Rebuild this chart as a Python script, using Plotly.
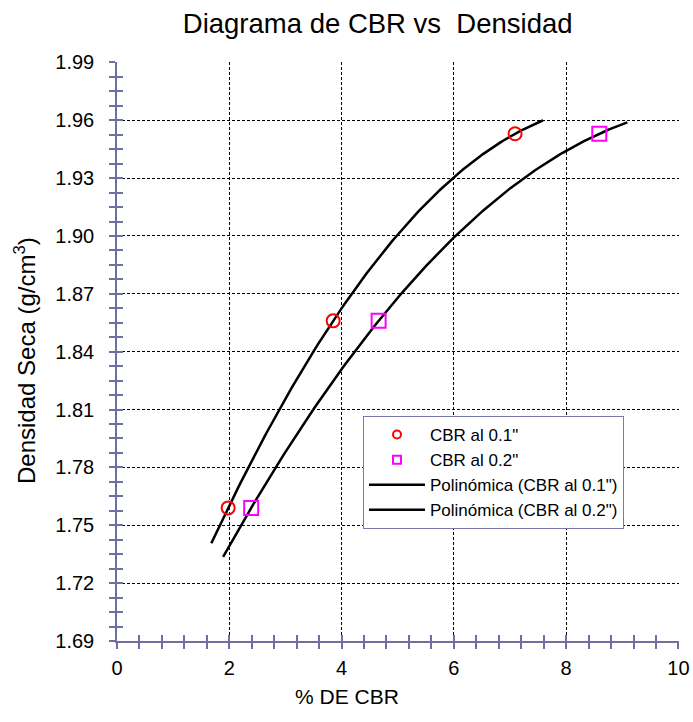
import numpy as np
import plotly.graph_objects as go

# Dry density (g/cm3) for the three compaction specimens
densidad = [1.759, 1.856, 1.953]
# CBR (%) read at 0.1" and 0.2" penetration
cbr_01 = [1.98, 3.85, 7.09]
cbr_02 = [2.39, 4.66, 8.59]

# Trendline extension (backward, forward) in CBR units
ext_01 = (0.30, 0.50)
ext_02 = (0.50, 0.50)

y_ticks = [1.69, 1.72, 1.75, 1.78, 1.81, 1.84, 1.87, 1.90, 1.93, 1.96, 1.99]
x_ticks = [0, 2, 4, 6, 8, 10]

FONT = "Liberation Sans, Arial, sans-serif"
AXIS_COLOR = "#6f6fa6"

# Ranges nudged past the last tick so the edge gridlines are kept
X_RANGE = [0, 10.01]
Y_RANGE = [1.69, 1.9902]


def poly_trend(x, y, ext, n=150):
    """Second-order polynomial trendline, extended like a spreadsheet trendline."""
    coef = np.polyfit(x, y, 2)
    xs = np.linspace(min(x) - ext[0], max(x) + ext[1], n)
    return xs, np.polyval(coef, xs)


tx1, ty1 = poly_trend(cbr_01, densidad, ext_01)
tx2, ty2 = poly_trend(cbr_02, densidad, ext_02)

fig = go.Figure()

# Trendlines
fig.add_trace(go.Scatter(x=tx1, y=ty1, mode="lines", line=dict(color="black", width=2.5),
                         showlegend=False, hoverinfo="skip"))
fig.add_trace(go.Scatter(x=tx2, y=ty2, mode="lines", line=dict(color="black", width=2.5),
                         showlegend=False, hoverinfo="skip"))

# Measured points
fig.add_trace(go.Scatter(x=cbr_01, y=densidad, mode="markers",
                         marker=dict(symbol="circle-open", size=13, color="#ff0000",
                                     line=dict(width=2, color="#ff0000")),
                         showlegend=False))
fig.add_trace(go.Scatter(x=cbr_02, y=densidad, mode="markers",
                         marker=dict(symbol="square-open", size=14, color="#ff00ff",
                                     line=dict(width=2, color="#ff00ff")),
                         showlegend=False))

# Legend entries (smaller symbols than the plotted markers)
legend_items = [
    dict(name='CBR al 0.1"', mode="markers",
         marker=dict(symbol="circle-open", size=8, color="#ff0000", line=dict(width=2, color="#ff0000"))),
    dict(name='CBR al 0.2"', mode="markers",
         marker=dict(symbol="square-open", size=8, color="#ff00ff", line=dict(width=2, color="#ff00ff"))),
    dict(name='Polinómica (CBR al 0.1")', mode="lines", line=dict(color="black", width=2.5)),
    dict(name='Polinómica (CBR al 0.2")', mode="lines", line=dict(color="black", width=2.5)),
]
for i, item in enumerate(legend_items):
    fig.add_trace(go.Scatter(x=[None], y=[None], legendgroup=f"g{i}", showlegend=True,
                             hoverinfo="skip", **item))

# Overlay axes carrying the inner half of the crossing tick marks
fig.add_trace(go.Scatter(x=[None], y=[None], xaxis="x2", yaxis="y2",
                         showlegend=False, hoverinfo="skip"))

grid = dict(showgrid=True, gridcolor="black", gridwidth=1, griddash="3px,2px")

fig.update_layout(
    width=693, height=722,
    margin=dict(l=117, r=14, t=62, b=81, autoexpand=False),
    paper_bgcolor="white", plot_bgcolor="white",
    font=dict(family=FONT, color="black"),
    title=dict(text="Diagrama de CBR vs\u00a0 Densidad", x=0.545, xanchor="center",
               y=1 - 23 / 722, yanchor="middle", font=dict(size=27.5, family=FONT)),
    xaxis=dict(range=X_RANGE, tickvals=x_ticks, ticktext=[str(v) for v in x_ticks],
               showline=True, linecolor=AXIS_COLOR, linewidth=1.5, automargin=False,
               ticks="outside", ticklen=6, tickwidth=1.5, tickcolor=AXIS_COLOR,
               minor=dict(dtick=0.4, ticks="outside", ticklen=6, tickwidth=1.5,
                          tickcolor=AXIS_COLOR, showgrid=False),
               tickfont=dict(size=20, family=FONT), ticklabelstandoff=2,
               zeroline=False, **grid),
    yaxis=dict(range=Y_RANGE, tickvals=y_ticks, ticktext=[f"{v:.2f}" for v in y_ticks],
               showline=True, linecolor=AXIS_COLOR, linewidth=1.5, automargin=False,
               ticks="outside", ticklen=6, tickwidth=1.5, tickcolor=AXIS_COLOR,
               minor=dict(dtick=0.0075, tick0=1.69, ticks="outside", ticklen=6, tickwidth=1.5,
                          tickcolor=AXIS_COLOR, showgrid=False),
               tickfont=dict(size=20, family=FONT), ticklabelstandoff=11,
               zeroline=False, **grid),
    xaxis2=dict(range=X_RANGE, overlaying="x", anchor="y2", side="bottom", automargin=False,
                tickvals=x_ticks, showticklabels=False, showgrid=False, zeroline=False,
                showline=False, ticks="inside", ticklen=6, tickwidth=1.5, tickcolor=AXIS_COLOR,
                minor=dict(dtick=0.4, ticks="inside", ticklen=6, tickwidth=1.5,
                           tickcolor=AXIS_COLOR, showgrid=False)),
    yaxis2=dict(range=Y_RANGE, overlaying="y", anchor="x2", side="left", automargin=False,
                tickvals=y_ticks, showticklabels=False, showgrid=False, zeroline=False,
                showline=False, ticks="inside", ticklen=6, tickwidth=1.5, tickcolor=AXIS_COLOR,
                minor=dict(dtick=0.0075, tick0=1.69, ticks="inside", ticklen=6, tickwidth=1.5,
                           tickcolor=AXIS_COLOR, showgrid=False)),
    legend=dict(x=(363 - 117) / 562, y=(641 - 416) / 579, xanchor="left", yanchor="top",
                bgcolor="white", bordercolor="#7a7aa8", borderwidth=1,
                font=dict(size=17, family=FONT), tracegroupgap=0,
                itemwidth=56),
    annotations=[
        dict(text="Densidad Seca (g/cm<sup>3</sup>)", textangle=-90, xref="paper", yref="paper",
             x=(25 - 117) / 562, y=(641 - 361) / 579, xanchor="center", yanchor="middle",
             showarrow=False, font=dict(size=24, family=FONT)),
        dict(text="% DE CBR", xref="paper", yref="paper",
             x=(347 - 117) / 562, y=(641 - 696) / 579, xanchor="center", yanchor="middle",
             showarrow=False, font=dict(size=21, family=FONT)),
    ],
)

fig.write_html("out.html")
